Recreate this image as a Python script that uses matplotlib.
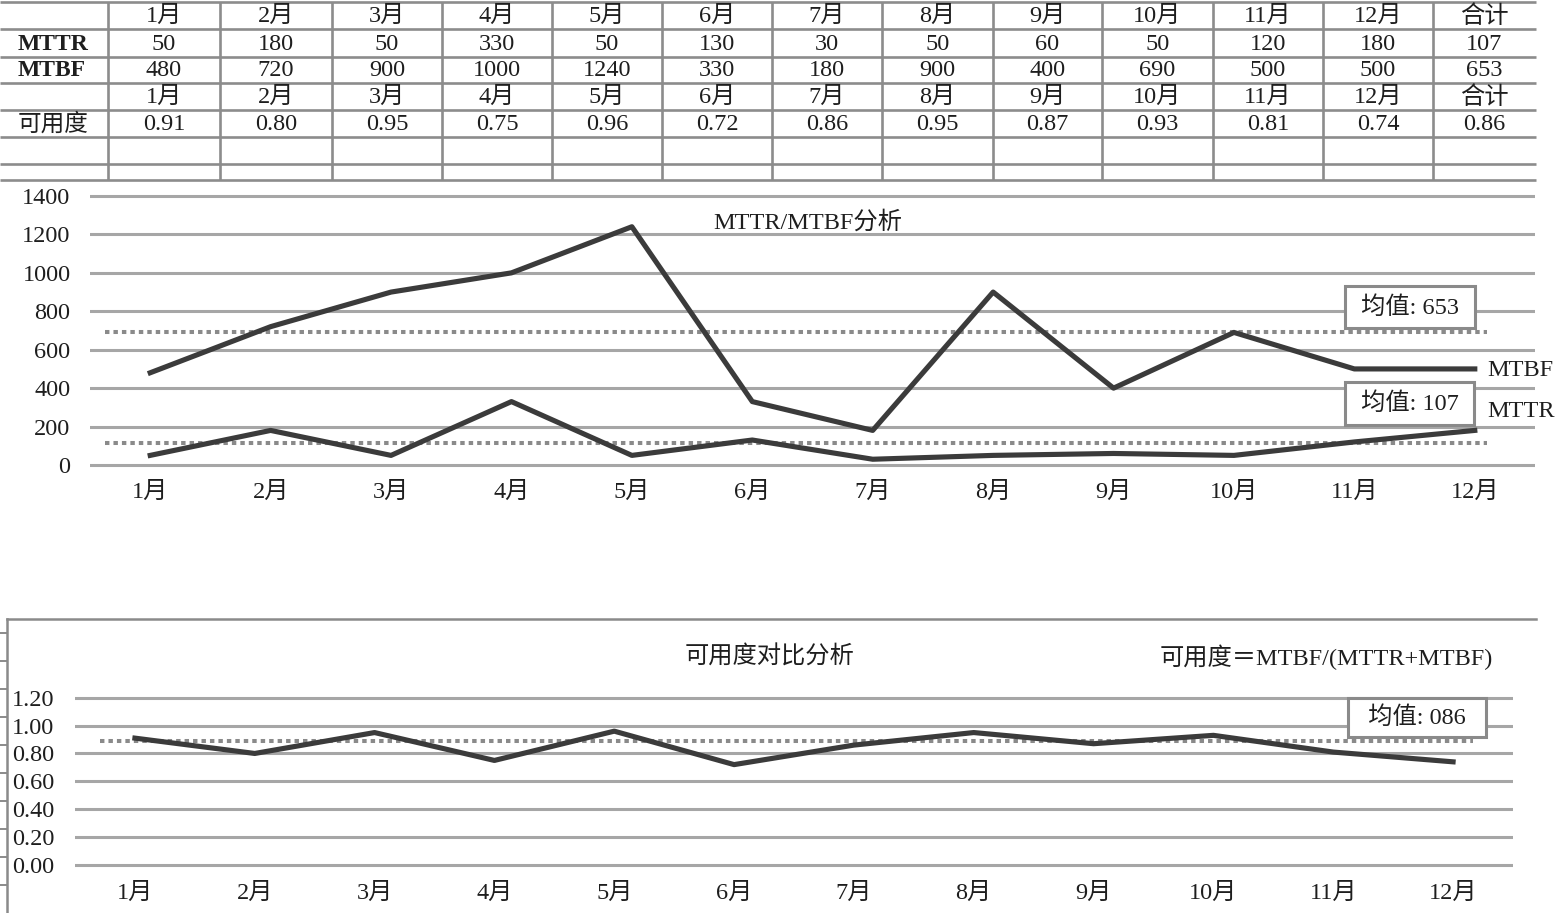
import matplotlib
matplotlib.use("Agg")
import matplotlib.pyplot as plt

plt.rcParams['font.family'] = ['Liberation Serif', 'Noto Sans CJK SC', 'DejaVu Sans']

# ---------------- data ----------------
months = ['1月', '2月', '3月', '4月', '5月', '6月', '7月', '8月', '9月', '10月', '11月', '12月']
mttr = [50, 180, 50, 330, 50, 130, 30, 50, 60, 50, 120, 180]
mtbf = [480, 720, 900, 1000, 1240, 330, 180, 900, 400, 690, 500, 500]
avail = [0.91, 0.80, 0.95, 0.75, 0.96, 0.72, 0.86, 0.95, 0.87, 0.93, 0.81, 0.74]
total_label = '合计'
mttr_total = 107
mtbf_total = 653
avail_total = 0.86
# mean reference lines as drawn in the picture
mtbf_mean_line = 690
mttr_mean_line = 115
avail_mean_line = 0.89
mean_labels = ['均值: 653', '均值: 107', '均值: 086']
top_yticks = [0, 200, 400, 600, 800, 1000, 1200, 1400]
bot_yticks = [0.0, 0.2, 0.4, 0.6, 0.8, 1.0, 1.2]

# ---------------- style ----------------
W, H = 1560, 913
LINE = '#3b3b3b'
GRID = '#a6a6a6'
DASH = '#8a8a8a'
TBL = '#8c8c8c'
TXT = '#1e1e1e'
FS = 17.5

fig = plt.figure(figsize=(W / 100, H / 100), dpi=100)


def px_axes(l, t, r, b, **kw):
    return fig.add_axes([l / W, 1 - b / H, (r - l) / W, (b - t) / H], **kw)


# ---------------- table ----------------
axt = px_axes(0, 0, W, 182)
axt.set_xlim(0, W)
axt.set_ylim(182, 0)
axt.axis('off')
row_edges = [2, 29, 57, 83, 110, 137, 164, 180]
col_edges = [108, 220, 332, 442, 552, 662, 772, 882, 993, 1102, 1213, 1323, 1433, 1536]
for y in row_edges:
    axt.plot([0, col_edges[-1]], [y, y], color=TBL, lw=1.9, solid_capstyle='butt')
for xe in col_edges[:-1]:
    axt.plot([xe, xe], [row_edges[0], row_edges[-1]], color=TBL, lw=1.9, solid_capstyle='butt')

centers_y = [(row_edges[i] + row_edges[i + 1]) / 2 for i in range(5)]
centers_x = [(col_edges[i] + col_edges[i + 1]) / 2 for i in range(13)]
header = months + [total_label]
rows = [
    ('', header),
    ('MTTR', [str(v) for v in mttr] + [str(mttr_total)]),
    ('MTBF', [str(v) for v in mtbf] + [str(mtbf_total)]),
    ('', header),
    ('可用度', ['%.2f' % v for v in avail] + ['%.2f' % avail_total]),
]
for r, (lab, vals) in enumerate(rows):
    yc = centers_y[r]
    if lab:
        axt.text(18, yc + 1, lab, ha='left', va='center', fontsize=FS - 0.5,
                 fontweight='bold' if lab != '可用度' else 'normal', color=TXT)
    for c, v in enumerate(vals):
        axt.text(centers_x[c], yc + 1, v, ha='center', va='center', fontsize=FS, color=TXT)

# ---------------- top chart ----------------
sc = 269 / 1400
ax1 = px_axes(90, 196 - 30 * sc, 1535, 465 + 30 * sc)
ax1.set_xlim(-0.5, 11.5)
ax1.set_ylim(-30, 1430)
ax1.patch.set_alpha(0)
for s in ax1.spines.values():
    s.set_visible(False)
x = list(range(len(months)))
for v in top_yticks:
    ax1.axhline(v, color=GRID, lw=2.2, zorder=1)
ax1.hlines([mtbf_mean_line, mttr_mean_line], -0.375, 11.1, colors=DASH, lw=2.9,
           linestyles=[(0, (1.1, 1.0))], zorder=2)
ax1.plot(x, mtbf, color=LINE, lw=3.7, zorder=3)
ax1.plot(x, mttr, color=LINE, lw=3.7, zorder=3)
ax1.set_yticks(top_yticks)
ax1.set_yticklabels([str(v) for v in top_yticks], fontsize=FS, color=TXT)
ax1.set_xticks(x)
ax1.set_xticklabels(months, fontsize=FS, color=TXT)
ax1.tick_params(axis='y', length=0, pad=14)
ax1.tick_params(axis='x', length=0, pad=8)
ax1.text(5.46, 1265, 'MTTR/MTBF分析', ha='center', va='center', fontsize=FS, color=TXT)
box = dict(boxstyle='square,pad=0.4', fc='white', ec='#8a8a8a', lw=2.2)
ax1.text(10.46, 822, ' ' + mean_labels[0] + ' ', ha='center', va='center', fontsize=FS,
         color=TXT, bbox=box, zorder=5)
ax1.text(10.46, 320, ' ' + mean_labels[1] + ' ', ha='center', va='center', fontsize=FS,
         color=TXT, bbox=box, zorder=5)
ax1.text(11.1, 494, 'MTBF', ha='left', va='center', fontsize=FS, color=TXT, clip_on=False)
ax1.text(11.1, 276, 'MTTR', ha='left', va='center', fontsize=FS, color=TXT, clip_on=False)

# ---------------- bottom frame ----------------
axf = px_axes(7, 619, 1536, 913)
axf.set_xlim(7, 1536)
axf.set_ylim(913, 619)
axf.patch.set_alpha(0)
for k in ('right', 'bottom'):
    axf.spines[k].set_visible(False)
for k in ('top', 'left'):
    axf.spines[k].set_color('#8a8a8a')
    axf.spines[k].set_linewidth(1.8)
axf.set_xticks([])
axf.set_yticks([633, 661, 689, 717, 745, 773, 801, 829, 857, 885])
axf.set_yticklabels([])
axf.tick_params(axis='y', direction='out', length=5, width=1.4, color='#8a8a8a')

# ---------------- bottom chart ----------------
sb = (865 - 697.7) / 1.2
ax2 = px_axes(75, 697.7 - 0.05 * sb, 1513, 865 + 0.05 * sb)
ax2.set_xlim(-0.5, 11.5)
ax2.set_ylim(-0.05, 1.25)
ax2.patch.set_alpha(0)
for s in ax2.spines.values():
    s.set_visible(False)
for v in bot_yticks:
    ax2.axhline(v, color=GRID, lw=2.2, zorder=1, xmax=1.004)
ax2.hlines([avail_mean_line], -0.29, 11.17, colors=DASH, lw=2.9,
           linestyles=[(0, (1.1, 1.0))], zorder=2)
ax2.plot(x, avail, color=LINE, lw=3.7, zorder=3)
ax2.set_yticks(bot_yticks)
ax2.set_yticklabels(['%.2f' % v for v in bot_yticks], fontsize=FS, color=TXT)
ax2.set_xticks(x)
ax2.set_xticklabels(months, fontsize=FS, color=TXT)
ax2.tick_params(axis='y', length=0, pad=15)
ax2.tick_params(axis='x', length=0, pad=8)
ax2.text(10.70, 1.058, '  ' + mean_labels[2] + '  ', ha='center', va='center', fontsize=FS,
         color=TXT, bbox=dict(boxstyle='square,pad=0.33', fc='white', ec='#8a8a8a', lw=2.2),
         zorder=5)

fig.text(770 / W, 1 - 657 / H, '可用度对比分析', ha='center', va='center', fontsize=FS, color=TXT)
fig.text(1493 / W, 1 - 657 / H, '可用度＝MTBF/(MTTR+MTBF)', ha='right', va='center',
         fontsize=FS, color=TXT)

fig.savefig('out.png', dpi=100, facecolor='white')
